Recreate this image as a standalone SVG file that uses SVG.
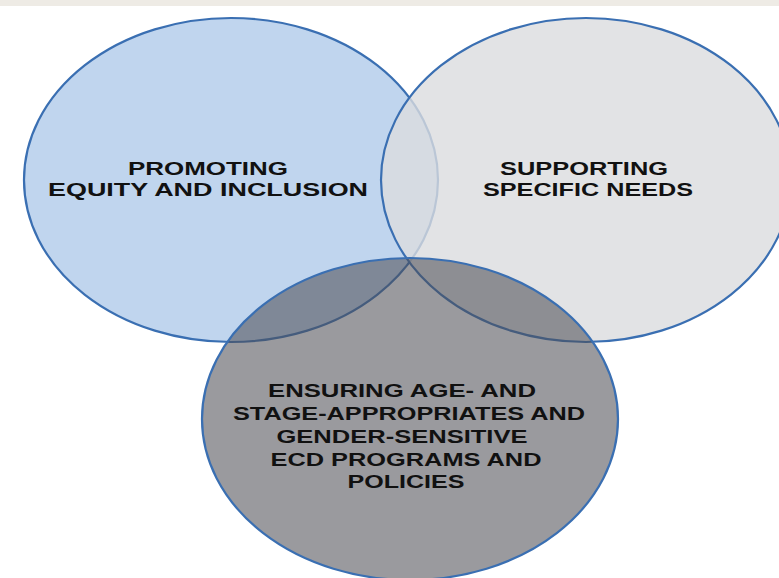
<svg xmlns="http://www.w3.org/2000/svg" width="779" height="578" viewBox="0 0 779 578">
<style>
.c{stroke:#3a6fb2;stroke-width:2.2}
.t{font-family:"Liberation Sans",Arial,sans-serif;font-weight:700;font-size:18px;fill:#111111;text-anchor:middle}
</style>
<rect x="0" y="0" width="779" height="578" fill="#ffffff"/>
<rect x="0" y="0" width="779" height="6" fill="#eeebe5"/>
<g id="node-equity">
<ellipse class="c" cx="231" cy="180" rx="207" ry="162" fill="#c0d5ee"/>
</g>
<g id="node-needs">
<ellipse class="c" cx="586" cy="180" rx="205" ry="162" fill="#dbdcde" fill-opacity="0.8"/>
</g>
<g id="node-ecd">
<ellipse class="c" cx="410" cy="419" rx="208" ry="161" fill="#4e4e54" fill-opacity="0.57"/>
</g>
<g id="connectors"></g>
<g id="labels">
<text class="t" x="208" y="175" textLength="160" lengthAdjust="spacingAndGlyphs">PROMOTING</text>
<text class="t" x="208" y="196" textLength="320" lengthAdjust="spacingAndGlyphs">EQUITY AND INCLUSION</text>
<text class="t" x="584" y="175" textLength="168" lengthAdjust="spacingAndGlyphs">SUPPORTING</text>
<text class="t" x="588" y="196" textLength="210" lengthAdjust="spacingAndGlyphs">SPECIFIC NEEDS</text>
<text class="t" x="402" y="397" textLength="268" lengthAdjust="spacingAndGlyphs">ENSURING AGE- AND</text>
<text class="t" x="409" y="420" textLength="352" lengthAdjust="spacingAndGlyphs">STAGE-APPROPRIATES AND</text>
<text class="t" x="402" y="443" textLength="251" lengthAdjust="spacingAndGlyphs">GENDER-SENSITIVE</text>
<text class="t" x="406" y="466" textLength="271" lengthAdjust="spacingAndGlyphs">ECD PROGRAMS AND</text>
<text class="t" x="406" y="488" textLength="117" lengthAdjust="spacingAndGlyphs">POLICIES</text>
</g>
</svg>
